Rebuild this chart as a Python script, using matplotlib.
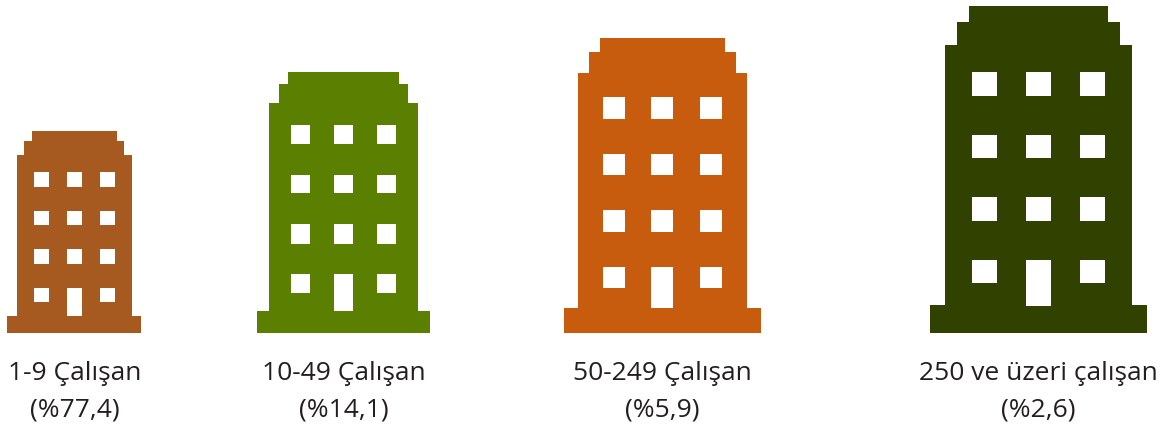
import matplotlib
matplotlib.use("Agg")
import matplotlib.pyplot as plt
from matplotlib.path import Path
from matplotlib.patches import PathPatch

# Data
categories = ["1-9 Çalışan", "10-49 Çalışan", "50-249 Çalışan", "250 ve üzeri çalışan"]
shares = ["%77,4", "%14,1", "%5,9", "%2,6"]

# Layout and style (pixel space of the 1165x427 figure)
colors = ["#A65A20", "#5B7F00", "#C75B0E", "#314200"]
left_edges = [7.3, 256.7, 564.0, 929.7]
icon_widths = [134.0, 173.7, 196.7, 217.6]
icon_heights = [201.7, 261.0, 295.3, 326.7]
baseline = 333.8
label_centers = [74.5, 343.5, 662.0, 1038.5]
line1_y, line2_y = 380.0, 417.0
FONT = "Open Sans"
FONTSIZE = 19.0
TEXT = "#231F20"

# Icon outline in unit coordinates (x from left, y from top)
outline = [(0, 1), (0, .915), (.072, .915), (.072, .120), (.127, .120), (.127, .048),
           (.181, .048), (.181, 0), (.819, 0), (.819, .048), (.873, .048), (.873, .120),
           (.928, .120), (.928, .915), (1, .915), (1, 1)]
win_x = [(.196, .308), (.444, .556), (.692, .804)]
win_y = [(.202, .276), (.394, .466), (.585, .658), (.776, .849)]
door = ((.444, .556), (.776, .917))


def rect(x, y):
    # reversed winding so that it cuts a hole
    return [(x[0], y[0]), (x[0], y[1]), (x[1], y[1]), (x[1], y[0])]


def icon_path(left, width, height):
    top = baseline - height
    rings = [outline]
    for j, wy in enumerate(win_y):
        for i, wx in enumerate(win_x):
            if j == 3 and i == 1:
                rings.append(rect(*door))
            else:
                rings.append(rect(wx, wy))
    verts, codes = [], []
    for r in rings:
        pts = [(left + px * width, top + py * height) for px, py in r]
        verts += pts + [pts[0]]
        codes += [Path.MOVETO] + [Path.LINETO] * (len(pts) - 1) + [Path.CLOSEPOLY]
    return Path(verts, codes)


fig = plt.figure(figsize=(11.65, 4.27), dpi=100)
ax = fig.add_axes([0, 0, 1, 1])
ax.set_xlim(0, 1165)
ax.set_ylim(427, 0)
ax.axis("off")

for cat, share, col, l, w, h, cx in zip(categories, shares, colors, left_edges,
                                         icon_widths, icon_heights, label_centers):
    ax.add_patch(PathPatch(icon_path(l, w, h), facecolor=col, edgecolor="none"))
    ax.text(cx, line1_y, cat, ha="center", va="baseline", family=FONT,
            fontsize=FONTSIZE, color=TEXT)
    ax.text(cx, line2_y, f"({share})", ha="center", va="baseline", family=FONT,
            fontsize=FONTSIZE, color=TEXT)

fig.savefig("out.png", dpi=100)
